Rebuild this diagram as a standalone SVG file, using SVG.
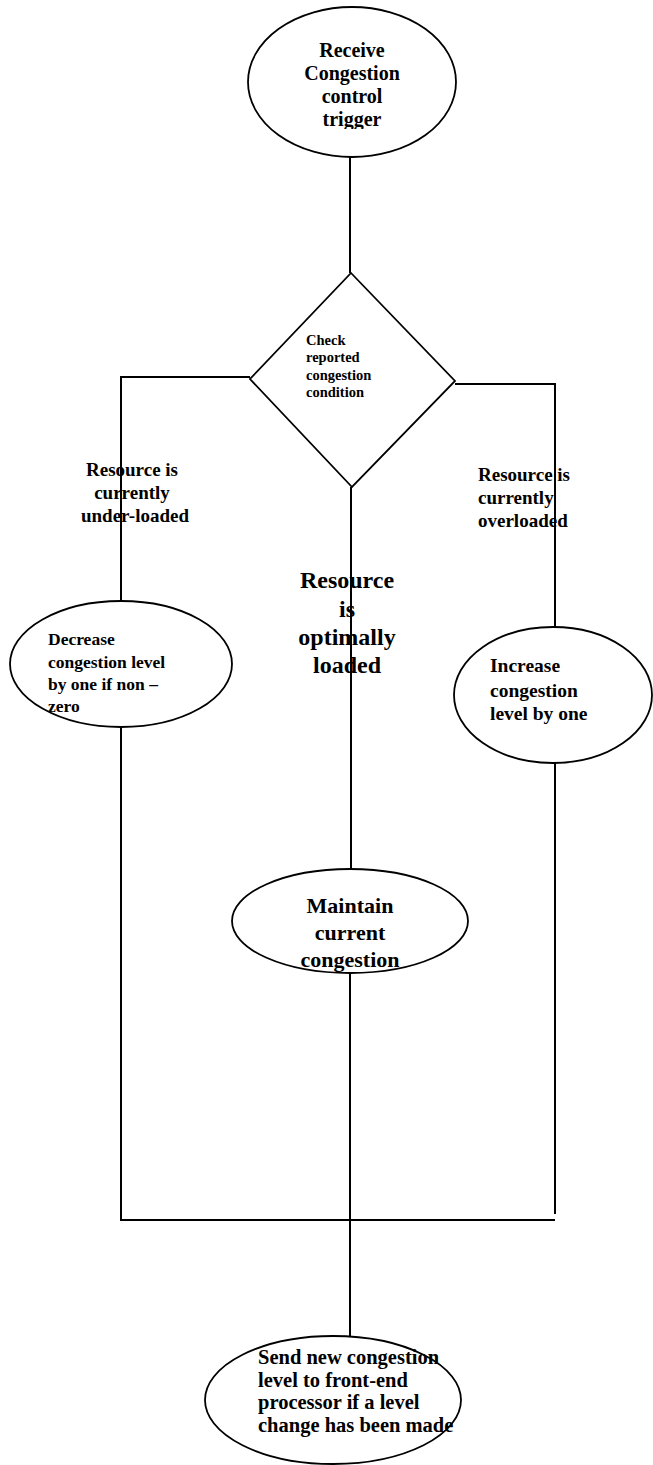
<svg xmlns="http://www.w3.org/2000/svg" width="653" height="1465" viewBox="0 0 653 1465">
<style>
.n{fill:#fff;stroke:#000;stroke-width:1.8}
.c{fill:none;stroke:#000;stroke-width:2}
text{font-family:"Liberation Serif","Times New Roman",serif;font-weight:bold;fill:#000}
.m{text-anchor:middle}
</style>
<defs>
<clipPath id="topclip"><rect x="240" y="0" width="230" height="129"/></clipPath>
</defs>
<rect width="653" height="1465" fill="#fff"/>
<g id="connectors">
<path class="c" d="M350 157V273"/>
<path class="c" d="M250 377H121V601"/>
<path class="c" d="M455 384H555V627"/>
<path class="c" d="M351 487V869"/>
<path class="c" d="M121 727V1220H555"/>
<path class="c" d="M555 763V1214"/>
<path class="c" d="M350 972V1336"/>
</g>
<g id="start">
<ellipse class="n" cx="352" cy="82" rx="104" ry="75"/>
<g clip-path="url(#topclip)">
<text class="m" font-size="20" x="352" y="57">Receive</text>
<text class="m" font-size="20" x="352" y="80">Congestion</text>
<text class="m" font-size="20" x="352" y="103">control</text>
<text class="m" font-size="20" x="352" y="126">trigger</text>
</g>
</g>
<g id="check">
<polygon class="n" points="351,273 455,381 352,487 250,379"/>
<text font-size="14.5" x="306" y="345">Check</text>
<text font-size="14.5" x="306" y="362">reported</text>
<text font-size="14.5" x="306" y="380">congestion</text>
<text font-size="14.5" x="306" y="397">condition</text>
</g>
<g id="label-under">
<text class="m" font-size="19" x="132" y="476">Resource is</text>
<text class="m" font-size="19" x="132" y="499">currently</text>
<text class="m" font-size="19" x="135" y="522">under-loaded</text>
</g>
<g id="label-over">
<text font-size="19" x="478" y="481">Resource is</text>
<text font-size="19" x="478" y="504">currently</text>
<text font-size="19" x="478" y="527">overloaded</text>
</g>
<g id="label-optimal">
<text class="m" font-size="24" x="347" y="588">Resource</text>
<text class="m" font-size="24" x="347" y="617">is</text>
<text class="m" font-size="24" x="347" y="645">optimally</text>
<text class="m" font-size="24" x="347" y="673">loaded</text>
</g>
<g id="decrease">
<ellipse class="n" cx="121" cy="664" rx="111" ry="63"/>
<text font-size="17.5" x="48" y="645">Decrease</text>
<text font-size="17.5" x="48" y="668">congestion level</text>
<text font-size="17.5" x="48" y="690">by one if non –</text>
<text font-size="17.5" x="48" y="712">zero</text>
</g>
<g id="increase">
<ellipse class="n" cx="553" cy="695" rx="99" ry="68"/>
<text font-size="19.5" x="490" y="672">Increase</text>
<text font-size="19.5" x="490" y="697">congestion</text>
<text font-size="19.5" x="490" y="720">level by one</text>
</g>
<g id="maintain">
<ellipse class="n" cx="350" cy="921" rx="118" ry="52"/>
<text class="m" font-size="22" x="350" y="913">Maintain</text>
<text class="m" font-size="22" x="350" y="940">current</text>
<text class="m" font-size="22" x="350" y="967">congestion</text>
</g>
<g id="send">
<ellipse class="n" cx="333" cy="1400" rx="128" ry="64"/>
<text font-size="20.5" x="258" y="1364">Send new congestion</text>
<text font-size="20.5" x="258" y="1387">level to front-end</text>
<text font-size="20.5" x="258" y="1409">processor if a level</text>
<text font-size="20.5" x="258" y="1432">change has been made</text>
</g>
</svg>
